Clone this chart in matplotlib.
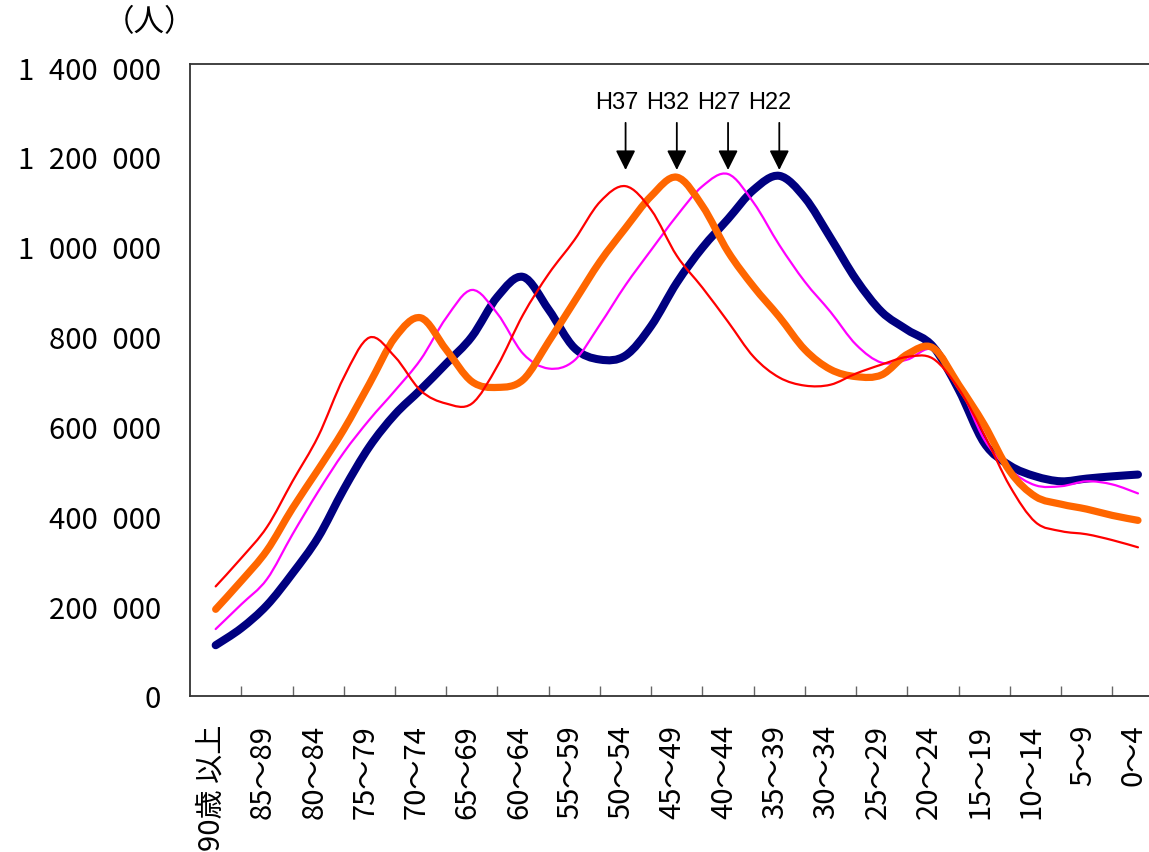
import numpy as np
import matplotlib.pyplot as plt
import matplotlib.transforms as mtransforms
from matplotlib.path import Path
from matplotlib.patches import PathPatch
from matplotlib.ticker import FuncFormatter

plt.rcParams['font.family'] = ['Noto Sans CJK JP', 'DejaVu Sans']

age_groups = ["90歳 以上", "85～89", "80～84", "75～79", "70～74", "65～69",
              "60～64", "55～59", "50～54", "45～49", "40～44", "35～39",
              "30～34", "25～29", "20～24", "15～19", "10～14", "5～9", "0～4"]

# sampled every half age-group step, from 90+ down to 0-4
pos = np.linspace(0, 18, 37)

h22 = [113000, 151000, 202000, 273000, 353000, 460000, 555000, 627000, 682000,
       740000, 800000, 889000, 933000, 860000, 775000, 749000, 758000, 824000,
       920000, 998000, 1062000, 1127000, 1158000, 1109000, 1020000, 927000,
       855000, 815000, 778000, 682000, 563000, 513000, 489000, 478000, 484000,
       489000, 493000]
h27 = [149000, 204000, 260000, 360000, 455000, 542000, 615000, 680000, 749000,
       842000, 904000, 851000, 762000, 729000, 747000, 827000, 915000, 993000,
       1069000, 1135000, 1162000, 1098000, 1004000, 922000, 855000, 782000,
       742000, 749000, 771000, 693000, 571000, 504000, 469000, 467000, 478000,
       471000, 451000]
h32 = [193000, 256000, 324000, 418000, 504000, 593000, 695000, 798000, 842000,
       771000, 700000, 687000, 704000, 789000, 878000, 967000, 1042000, 1113000,
       1155000, 1091000, 989000, 911000, 844000, 771000, 727000, 711000,
       715000, 761000, 775000, 693000, 604000, 500000, 444000, 427000, 416000,
       402000, 391000]
h37 = [244000, 307000, 376000, 478000, 578000, 709000, 798000, 755000, 680000,
       651000, 651000, 735000, 849000, 940000, 1015000, 1100000, 1135000, 1082000,
       980000, 909000, 833000, 755000, 709000, 691000, 693000, 718000,
       738000, 755000, 751000, 684000, 582000, 467000, 387000, 367000, 360000,
       347000, 331000]

series = [
    ("H22", h22, "#000080", 5.8, 2),
    ("H27", h27, "#FF00FF", 1.6, 3),
    ("H32", h32, "#FF6600", 5.2, 4),
    ("H37", h37, "#FF0000", 1.6, 5),
]


def smooth_path(x, y):
    # Catmull-Rom style bezier through the points (like a "smoothed line")
    pts = np.column_stack([x, y]).astype(float)
    n = len(pts)
    verts = [pts[0]]
    codes = [Path.MOVETO]
    for i in range(n - 1):
        p0 = pts[max(i - 1, 0)]
        p1 = pts[i]
        p2 = pts[i + 1]
        p3 = pts[min(i + 2, n - 1)]
        c1 = p1 + (p2 - p0) / 6.0
        c2 = p2 - (p3 - p1) / 6.0
        verts += [c1, c2, p2]
        codes += [Path.CURVE4] * 3
    return Path(verts, codes)


fig = plt.figure(figsize=(11.49, 8.53), dpi=100)
ax = fig.add_axes([0.1654, 0.1829, 0.8473, 0.7409])

for name, vals, col, lw, z in series:
    ax.add_patch(PathPatch(smooth_path(pos, vals), fill=False, edgecolor=col,
                           lw=lw, zorder=z, capstyle='round', joinstyle='round'))
    peak = pos[int(np.argmax(vals))]
    ax.annotate('', xy=(peak, 1171000), xytext=(peak, 1276000),
                arrowprops=dict(arrowstyle='-|>,head_length=0.5,head_width=0.25',
                                color='black', lw=1.3, mutation_scale=24,
                                shrinkA=0, shrinkB=0))
    ax.text(peak - 0.18, 1322000, name, ha='center', va='center',
            fontsize=17, family='Liberation Sans')

ax.set_xlim(-0.5, 18.5)
ax.set_ylim(0, 1407000)

ax.set_xticks(range(len(age_groups)))
ax.set_xticklabels(age_groups, rotation=90, fontsize=21)
ax.set_xticks(np.arange(0.5, 18, 1), minor=True)
ax.tick_params(axis='x', which='major', length=0, pad=20)
ax.tick_params(axis='x', which='minor', length=7, width=1, direction='in', color='#666666')
shift = mtransforms.ScaledTranslation(-4 / 100, 0, fig.dpi_scale_trans)
for lab in ax.get_xticklabels():
    lab.set_transform(lab.get_transform() + shift)

ax.set_yticks(np.arange(0, 1400001, 200000))
ax.yaxis.set_major_formatter(FuncFormatter(lambda v, p: f"{int(v):,}".replace(",", "\u2002")))
ax.tick_params(axis='y', length=0, pad=21, labelsize=21)

for s in ax.spines.values():
    s.set_color('#333333')
    s.set_linewidth(1.3)

fig.text(0.1305, 0.974, "（人）", ha='center', va='center', fontsize=22)

fig.savefig('out.png', dpi=100)
